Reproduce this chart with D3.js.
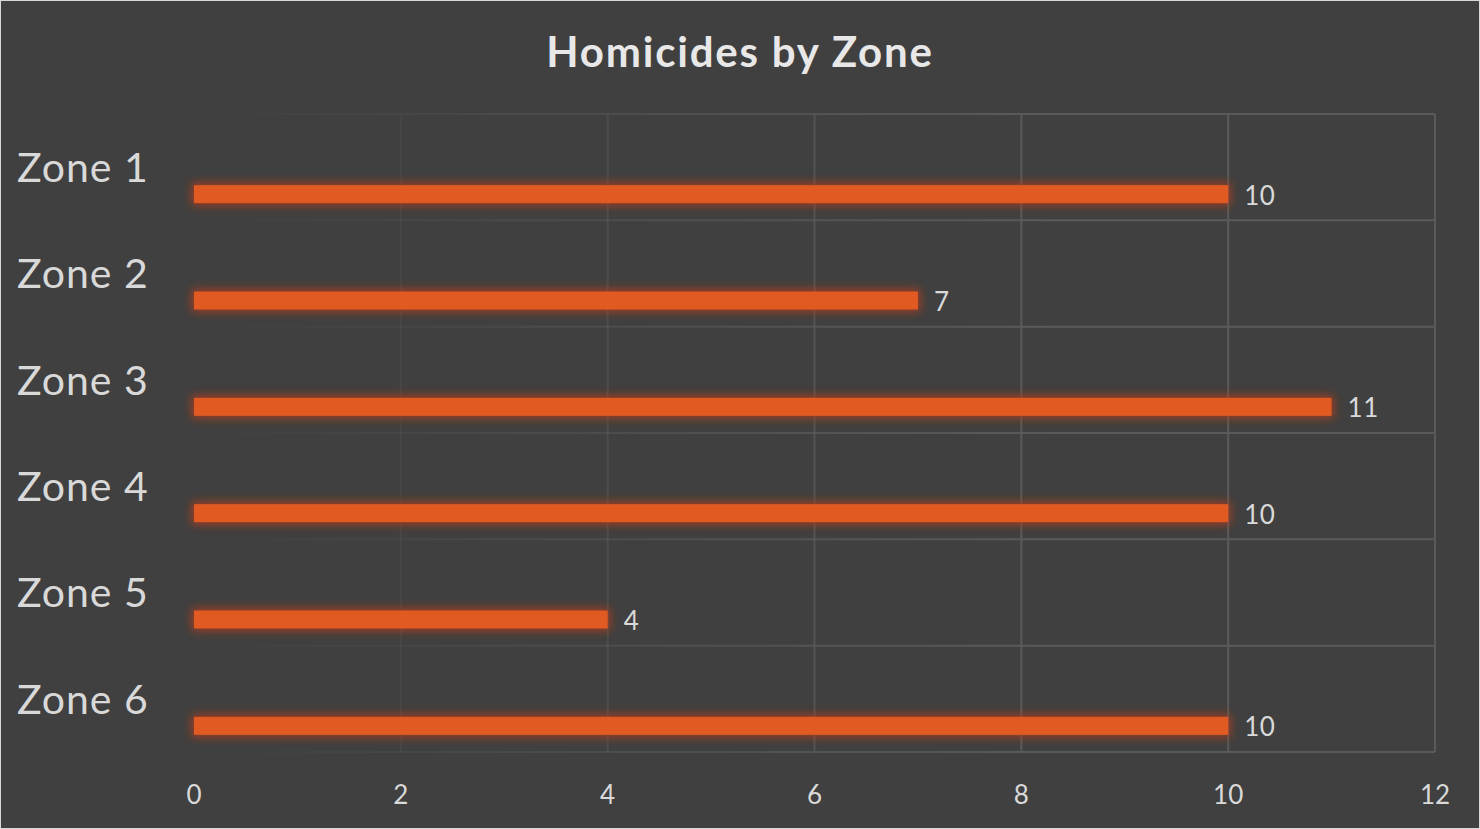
<!DOCTYPE html>
<html>
<head>
<meta charset="utf-8">
<script src="https://cdn.jsdelivr.net/npm/d3@7"></script>
<style>
  body { margin: 0; background: #404040; }
  svg { display: block; font-family: Lato, "Open Sans", sans-serif; }
</style>
</head>
<body>
<div id="chart-area"></div>
<script>
const zones = ["Zone 1", "Zone 2", "Zone 3", "Zone 4", "Zone 5", "Zone 6"];
const homicides = [10, 7, 11, 10, 4, 10];
const xTicks = [0, 2, 4, 6, 8, 10, 12];

const w = 1480;
const h = 829;
const plotLeft = 194, plotRight = 1435, plotTop = 114, plotBottom = 752;

const svg = d3.select("#chart-area")
    .append("svg")
    .attr("width", w)
    .attr("height", h);

svg.append("rect")
    .attr("x", 0.5).attr("y", 0.5)
    .attr("width", w - 1).attr("height", h - 1)
    .attr("fill", "#404040")
    .attr("stroke", "#d9d9d9");

const defs = svg.append("defs");
const glow = defs.append("filter").attr("id", "glow")
    .attr("x", "-5%").attr("y", "-150%").attr("width", "110%").attr("height", "400%");
glow.append("feMorphology").attr("in", "SourceAlpha").attr("operator", "dilate").attr("radius", 2).attr("result", "fat");
glow.append("feGaussianBlur").attr("in", "fat").attr("stdDeviation", 5).attr("result", "blur");
glow.append("feFlood").attr("flood-color", "#b83c18").attr("flood-opacity", 0.85);
glow.append("feComposite").attr("in2", "blur").attr("operator", "in").attr("result", "g");
const merge = glow.append("feMerge");
merge.append("feMergeNode").attr("in", "g");
merge.append("feMergeNode").attr("in", "SourceGraphic");

// grid lines fade out towards the left
const fade = defs.append("linearGradient").attr("id", "gridFade")
    .attr("gradientUnits", "userSpaceOnUse")
    .attr("x1", plotLeft).attr("x2", 1050).attr("y1", 0).attr("y2", 0);
fade.append("stop").attr("offset", 0).attr("stop-color", "#5a5a5a").attr("stop-opacity", 0);
fade.append("stop").attr("offset", 1).attr("stop-color", "#5a5a5a").attr("stop-opacity", 1);

const xScale = d3.scaleLinear().domain([0, 12]).range([plotLeft, plotRight]);
const yScale = d3.scaleBand().domain(zones).range([plotTop, plotBottom]);

// grid
svg.append("g")
    .selectAll("line")
    .data(xTicks)
    .enter()
    .append("line")
    .attr("x1", d => xScale(d)).attr("x2", d => xScale(d) + 0.01)
    .attr("y1", plotTop).attr("y2", plotBottom)
    .attr("stroke", "url(#gridFade)")
    .attr("stroke-width", 2);

svg.append("g")
    .selectAll("line")
    .data(zones.map(z => yScale(z)).concat([plotBottom]))
    .enter()
    .append("line")
    .attr("x1", plotLeft).attr("x2", plotRight)
    .attr("y1", d => d).attr("y2", d => d + 0.01)
    .attr("stroke", "url(#gridFade)")
    .attr("stroke-width", 2);

// bars
const barH = 18;
const barOffset = yScale.bandwidth() / 2 + 27 - barH / 2;
svg.selectAll(".bar")
    .data(homicides)
    .enter()
    .append("rect")
    .attr("class", "bar")
    .attr("x", xScale(0))
    .attr("y", (d, i) => yScale(zones[i]) + barOffset)
    .attr("width", d => xScale(d) - xScale(0))
    .attr("height", barH)
    .attr("fill", "#e05a24")
    .attr("filter", "url(#glow)");

// data labels
svg.selectAll(".label")
    .data(homicides)
    .enter()
    .append("text")
    .attr("x", d => xScale(d) + 16)
    .attr("y", (d, i) => yScale(zones[i]) + barOffset + barH / 2 + 1)
    .attr("dy", "0.36em")
    .attr("fill", "#d9d9d9")
    .attr("font-size", 26)
    .attr("letter-spacing", 0.5)
    .text(d => d);

// category labels
svg.selectAll(".cat")
    .data(zones)
    .enter()
    .append("text")
    .attr("x", 17)
    .attr("y", d => yScale(d) + yScale.bandwidth() / 2)
    .attr("dy", "0.36em")
    .attr("fill", "#d9d9d9")
    .attr("font-size", 41)
    .attr("letter-spacing", 1)
    .text(d => d);

// x tick labels
svg.selectAll(".tick-label")
    .data(xTicks)
    .enter()
    .append("text")
    .attr("x", d => xScale(d))
    .attr("y", 795)
    .attr("dy", "0.36em")
    .attr("text-anchor", "middle")
    .attr("fill", "#d9d9d9")
    .attr("font-size", 26)
    .text(d => d);

svg.append("text")
    .attr("x", 740)
    .attr("y", 52)
    .attr("dy", "0.36em")
    .attr("text-anchor", "middle")
    .attr("fill", "#e8e8e8")
    .attr("font-size", 42)
    .attr("font-weight", "bold")
    .attr("letter-spacing", 1.8)
    .text("Homicides by Zone");
</script>
</body>
</html>
